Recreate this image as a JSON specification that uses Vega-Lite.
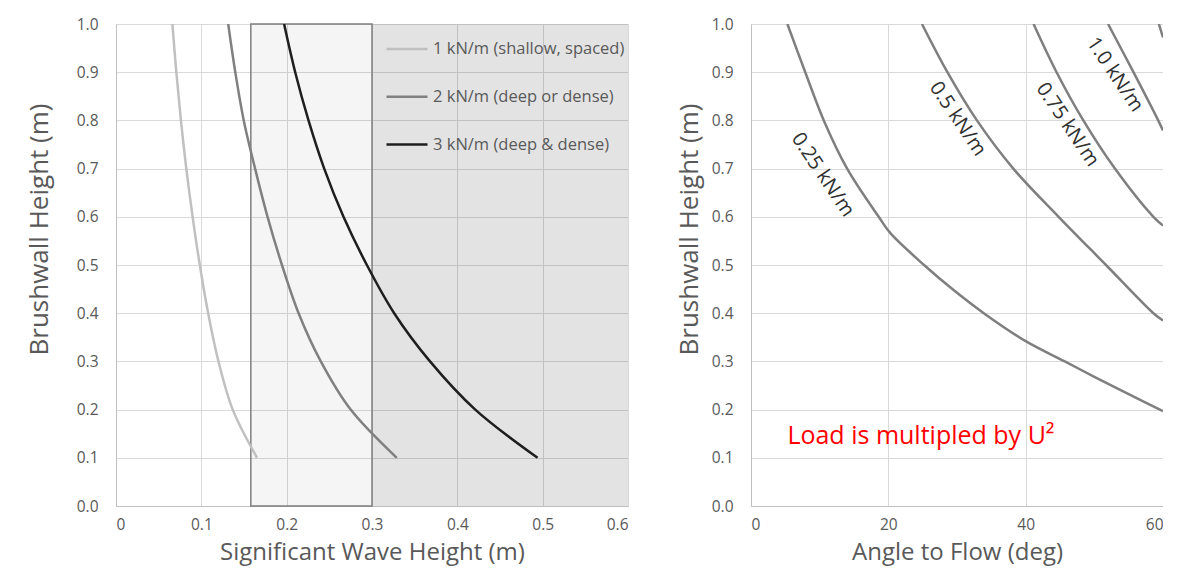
{
  "$schema": "https://vega.github.io/schema/vega-lite/v6.json",
  "background": "white",
  "padding": {"left": 26, "top": 17, "right": 0, "bottom": 3},
  "spacing": 123,
  "bounds": "flush",
  "config": {
    "font": "Open Sans",
    "view": {"stroke": null},
    "axis": {
      "gridColor": "#d9d9d9",
      "gridWidth": 1,
      "domainColor": "#bfbfbf",
      "ticks": false,
      "labelColor": "#595959",
      "labelFontSize": 15.5,
      "titleColor": "#595959",
      "titleFontSize": 24,
      "titleFontWeight": "normal"
    }
  },
  "hconcat": [
    {
      "width": 512,
      "height": 482,
      "layer": [
        {
          "data": {"values": [{"x1": 0.3, "x2": 0.6, "y1": 0, "y2": 1}]},
          "mark": {"type": "rect", "fill": "#000000", "fillOpacity": 0.11},
          "encoding": {
            "x": {"field": "x1", "type": "quantitative", "scale": {"domain": [0, 0.6], "nice": false}},
            "x2": {"field": "x2"},
            "y": {"field": "y1", "type": "quantitative", "scale": {"domain": [0, 1], "nice": false}},
            "y2": {"field": "y2"}
          }
        },
        {
          "data": {"values": [{"x1": 0.158, "x2": 0.3, "y1": 0, "y2": 1}]},
          "mark": {"type": "rect", "fill": "#000000", "fillOpacity": 0.04, "stroke": "#7f7f7f", "strokeWidth": 1.5},
          "encoding": {
            "x": {"field": "x1", "type": "quantitative"},
            "x2": {"field": "x2"},
            "y": {"field": "y1", "type": "quantitative"},
            "y2": {"field": "y2"}
          }
        },
        {
          "data": {"values": [
            {"series": "1 kN/m (shallow, spaced)", "hs": 0.0661, "h": 1.0},
            {"series": "1 kN/m (shallow, spaced)", "hs": 0.0707, "h": 0.9},
            {"series": "1 kN/m (shallow, spaced)", "hs": 0.0761, "h": 0.8},
            {"series": "1 kN/m (shallow, spaced)", "hs": 0.0824, "h": 0.7},
            {"series": "1 kN/m (shallow, spaced)", "hs": 0.0898, "h": 0.6},
            {"series": "1 kN/m (shallow, spaced)", "hs": 0.0982, "h": 0.5},
            {"series": "1 kN/m (shallow, spaced)", "hs": 0.1080, "h": 0.4},
            {"series": "1 kN/m (shallow, spaced)", "hs": 0.1201, "h": 0.3},
            {"series": "1 kN/m (shallow, spaced)", "hs": 0.1368, "h": 0.2},
            {"series": "1 kN/m (shallow, spaced)", "hs": 0.1653, "h": 0.1},
            {"series": "2 kN/m (deep or dense)", "hs": 0.1315, "h": 1.0},
            {"series": "2 kN/m (deep or dense)", "hs": 0.1398, "h": 0.9},
            {"series": "2 kN/m (deep or dense)", "hs": 0.1497, "h": 0.8},
            {"series": "2 kN/m (deep or dense)", "hs": 0.1630, "h": 0.7},
            {"series": "2 kN/m (deep or dense)", "hs": 0.1776, "h": 0.6},
            {"series": "2 kN/m (deep or dense)", "hs": 0.1945, "h": 0.5},
            {"series": "2 kN/m (deep or dense)", "hs": 0.2140, "h": 0.4},
            {"series": "2 kN/m (deep or dense)", "hs": 0.2400, "h": 0.3},
            {"series": "2 kN/m (deep or dense)", "hs": 0.2750, "h": 0.2},
            {"series": "2 kN/m (deep or dense)", "hs": 0.3290, "h": 0.1},
            {"series": "3 kN/m (deep & dense)", "hs": 0.197, "h": 1.0},
            {"series": "3 kN/m (deep & dense)", "hs": 0.210, "h": 0.9},
            {"series": "3 kN/m (deep & dense)", "hs": 0.2256, "h": 0.8},
            {"series": "3 kN/m (deep & dense)", "hs": 0.2440, "h": 0.7},
            {"series": "3 kN/m (deep & dense)", "hs": 0.2666, "h": 0.6},
            {"series": "3 kN/m (deep & dense)", "hs": 0.2940, "h": 0.5},
            {"series": "3 kN/m (deep & dense)", "hs": 0.3260, "h": 0.4},
            {"series": "3 kN/m (deep & dense)", "hs": 0.3680, "h": 0.3},
            {"series": "3 kN/m (deep & dense)", "hs": 0.4210, "h": 0.2},
            {"series": "3 kN/m (deep & dense)", "hs": 0.4940, "h": 0.1}
          ]},
          "mark": {"type": "line", "strokeWidth": 2.5, "interpolate": "catmull-rom", "clip": true},
          "encoding": {
            "x": {
              "field": "hs", "type": "quantitative",
              "scale": {"domain": [0, 0.6], "nice": false},
              "axis": {
                "values": [0, 0.1, 0.2, 0.3, 0.4, 0.5, 0.6],
                "labelExpr": "datum.value == 0 ? '0' : format(datum.value, '.1f')",
                "labelPadding": 11,
                "title": "Significant Wave Height (m)",
                "titleBaseline": "middle",
                "titleY": 46
              }
            },
            "y": {
              "field": "h", "type": "quantitative",
              "scale": {"domain": [0, 1], "nice": false},
              "axis": {
                "values": [0, 0.1, 0.2, 0.3, 0.4, 0.5, 0.6, 0.7, 0.8, 0.9, 1.0],
                "format": ".1f",
                "labelPadding": 18,
                "title": "Brushwall Height (m)",
                "titleFontSize": 26,
                "titleBaseline": "middle",
                "titleX": -77,
                "titleY": 205
              }
            },
            "color": {
              "field": "series", "type": "nominal",
              "scale": {
                "domain": ["1 kN/m (shallow, spaced)", "2 kN/m (deep or dense)", "3 kN/m (deep & dense)"],
                "range": ["#c0c0c0", "#808080", "#1e1e1e"]
              },
              "legend": {
                "title": null,
                "orient": "none",
                "legendX": 269,
                "legendY": 3,
                "symbolType": "stroke",
                "symbolSize": 1681,
                "symbolStrokeWidth": 2.5,
                "labelFontSize": 16.5,
                "labelColor": "#595959",
                "labelOffset": 4,
                "labelLimit": 400,
                "rowPadding": 16.8
              }
            }
          }
        }
      ]
    },
    {
      "width": 412,
      "height": 482,
      "layer": [
        {
          "data": {"values": [
            {"load": "0.25 kN/m", "deg": 5.3, "h": 1.0},
            {"load": "0.25 kN/m", "deg": 7.9, "h": 0.9},
            {"load": "0.25 kN/m", "deg": 10.6, "h": 0.8},
            {"load": "0.25 kN/m", "deg": 14.0, "h": 0.7},
            {"load": "0.25 kN/m", "deg": 18.6, "h": 0.6},
            {"load": "0.25 kN/m", "deg": 20.3, "h": 0.566},
            {"load": "0.25 kN/m", "deg": 25.2, "h": 0.5},
            {"load": "0.25 kN/m", "deg": 29.5, "h": 0.448},
            {"load": "0.25 kN/m", "deg": 33.9, "h": 0.4},
            {"load": "0.25 kN/m", "deg": 40.0, "h": 0.342},
            {"load": "0.25 kN/m", "deg": 45.7, "h": 0.3},
            {"load": "0.25 kN/m", "deg": 50.0, "h": 0.268},
            {"load": "0.25 kN/m", "deg": 55.0, "h": 0.232},
            {"load": "0.25 kN/m", "deg": 60.0, "h": 0.197},
            {"load": "0.5 kN/m", "deg": 24.9, "h": 1.0},
            {"load": "0.5 kN/m", "deg": 28.6, "h": 0.9},
            {"load": "0.5 kN/m", "deg": 32.9, "h": 0.8},
            {"load": "0.5 kN/m", "deg": 38.2, "h": 0.7},
            {"load": "0.5 kN/m", "deg": 44.8, "h": 0.6},
            {"load": "0.5 kN/m", "deg": 51.7, "h": 0.5},
            {"load": "0.5 kN/m", "deg": 58.6, "h": 0.4},
            {"load": "0.5 kN/m", "deg": 60.0, "h": 0.385},
            {"load": "0.75 kN/m", "deg": 41.15, "h": 1.0},
            {"load": "0.75 kN/m", "deg": 44.5, "h": 0.9},
            {"load": "0.75 kN/m", "deg": 48.4, "h": 0.8},
            {"load": "0.75 kN/m", "deg": 53.0, "h": 0.7},
            {"load": "0.75 kN/m", "deg": 58.6, "h": 0.6},
            {"load": "0.75 kN/m", "deg": 60.0, "h": 0.582},
            {"load": "1.0 kN/m", "deg": 52.0, "h": 1.0},
            {"load": "1.0 kN/m", "deg": 55.7, "h": 0.9},
            {"load": "1.0 kN/m", "deg": 59.3, "h": 0.8},
            {"load": "1.0 kN/m", "deg": 60.0, "h": 0.779},
            {"load": "1.25 kN/m", "deg": 59.4, "h": 1.0},
            {"load": "1.25 kN/m", "deg": 60.0, "h": 0.972}
          ]},
          "mark": {"type": "line", "strokeWidth": 2.5, "color": "#7f7f7f", "interpolate": "catmull-rom", "clip": true},
          "encoding": {
            "x": {
              "field": "deg", "type": "quantitative",
              "scale": {"domain": [0, 60], "nice": false},
              "axis": {
                "values": [0, 20, 40, 60],
                "labelPadding": 11,
                "title": "Angle to Flow (deg)",
                "titleBaseline": "middle",
                "titleY": 46
              }
            },
            "y": {
              "field": "h", "type": "quantitative",
              "scale": {"domain": [0, 1], "nice": false},
              "axis": {
                "values": [0, 0.1, 0.2, 0.3, 0.4, 0.5, 0.6, 0.7, 0.8, 0.9, 1.0],
                "format": ".1f",
                "labelPadding": 18,
                "title": "Brushwall Height (m)",
                "titleFontSize": 26,
                "titleBaseline": "middle",
                "titleX": -62,
                "titleY": 205
              }
            },
            "detail": {"field": "load", "type": "nominal"}
          }
        },
        {
          "data": {"values": [
            {"label": "0.25 kN/m", "deg": 10.45, "h": 0.687},
            {"label": "0.5 kN/m", "deg": 30.1, "h": 0.803},
            {"label": "0.75 kN/m", "deg": 46.1, "h": 0.791},
            {"label": "1.0 kN/m", "deg": 53.0, "h": 0.895}
          ]},
          "mark": {"type": "text", "angle": 56, "fontSize": 20, "color": "#303030", "align": "center", "baseline": "middle"},
          "encoding": {
            "x": {"field": "deg", "type": "quantitative"},
            "y": {"field": "h", "type": "quantitative"},
            "text": {"field": "label"}
          }
        },
        {
          "data": {"values": [{"note": "Load is multipled by U²", "deg": 5.3, "h": 0.146}]},
          "mark": {"type": "text", "fontSize": 25, "color": "#ff0000", "align": "left", "baseline": "middle"},
          "encoding": {
            "x": {"field": "deg", "type": "quantitative"},
            "y": {"field": "h", "type": "quantitative"},
            "text": {"field": "note"}
          }
        }
      ]
    }
  ]
}
